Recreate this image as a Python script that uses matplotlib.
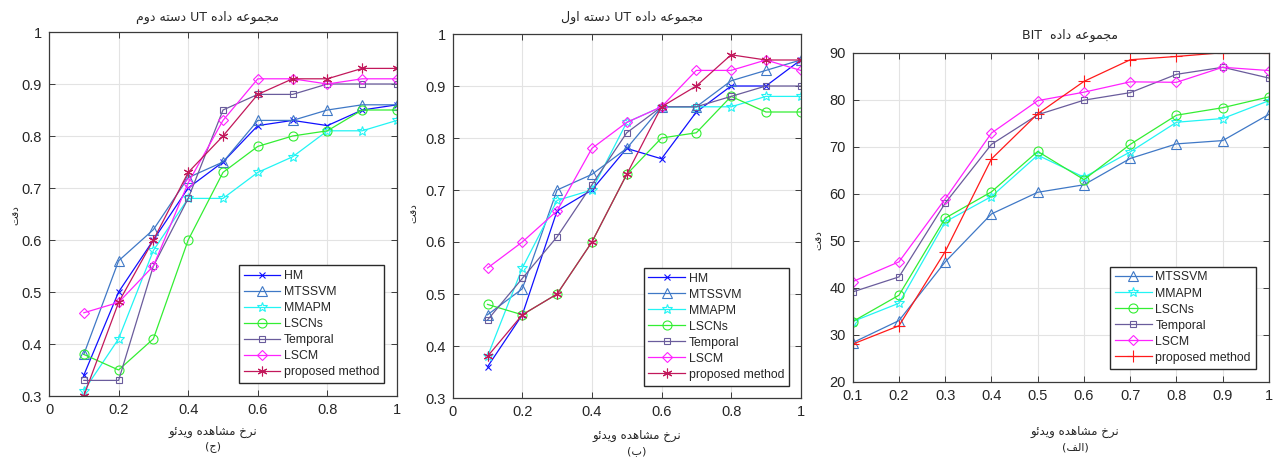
import matplotlib
matplotlib.use("Agg")
import matplotlib.pyplot as plt
import numpy as np

# ---------------- data ----------------
x_ratio = [0.1, 0.2, 0.3, 0.4, 0.5, 0.6, 0.7, 0.8, 0.9, 1.0]

# Panel (ج) : UT set 2
ut2_hm       = [0.34, 0.50, 0.60, 0.70, 0.75, 0.82, 0.83, 0.82, 0.85, 0.86]
ut2_mtssvm   = [0.38, 0.56, 0.62, 0.72, 0.75, 0.83, 0.83, 0.85, 0.86, 0.86]
ut2_mmapm    = [0.31, 0.41, 0.58, 0.68, 0.68, 0.73, 0.76, 0.81, 0.81, 0.83]
ut2_lscns    = [0.38, 0.35, 0.41, 0.60, 0.73, 0.78, 0.80, 0.81, 0.85, 0.85]
ut2_temporal = [0.33, 0.33, 0.55, 0.68, 0.85, 0.88, 0.88, 0.90, 0.90, 0.90]
ut2_lscm     = [0.46, 0.48, 0.55, 0.71, 0.83, 0.91, 0.91, 0.90, 0.91, 0.91]
ut2_proposed = [0.30, 0.48, 0.60, 0.73, 0.80, 0.88, 0.91, 0.91, 0.93, 0.93]

# Panel (ب) : UT set 1
ut1_hm       = [0.36, 0.46, 0.66, 0.70, 0.78, 0.76, 0.85, 0.90, 0.90, 0.95]
ut1_mtssvm   = [0.46, 0.51, 0.70, 0.73, 0.78, 0.86, 0.86, 0.91, 0.93, 0.95]
ut1_mmapm    = [0.38, 0.55, 0.68, 0.70, 0.83, 0.86, 0.86, 0.86, 0.88, 0.88]
ut1_lscns    = [0.48, 0.46, 0.50, 0.60, 0.73, 0.80, 0.81, 0.88, 0.85, 0.85]
ut1_temporal = [0.45, 0.53, 0.61, 0.71, 0.81, 0.86, 0.86, 0.88, 0.90, 0.90]
ut1_lscm     = [0.55, 0.60, 0.66, 0.78, 0.83, 0.86, 0.93, 0.93, 0.95, 0.93]
ut1_proposed = [0.38, 0.46, 0.50, 0.60, 0.73, 0.86, 0.90, 0.96, 0.95, 0.95]

# Panel (الف) : BIT
bit_mtssvm   = [28.3, 33.0, 45.5, 55.7, 60.3, 61.9, 67.5, 70.6, 71.3, 76.9]
bit_mmapm    = [32.8, 36.7, 54.0, 59.4, 68.2, 63.5, 68.9, 75.2, 76.0, 79.8]
bit_lscns    = [32.8, 38.4, 54.8, 60.4, 69.0, 63.0, 70.5, 76.7, 78.3, 80.6]
bit_temporal = [39.1, 42.3, 58.0, 70.5, 76.8, 79.9, 81.5, 85.4, 86.9, 84.6]
bit_lscm     = [41.3, 45.5, 58.9, 72.9, 79.8, 81.6, 83.8, 83.7, 86.9, 86.2]
bit_proposed = [28.0, 31.9, 47.7, 67.4, 77.0, 83.9, 88.5, 89.2, 90.0, 90.0]

series_names = ["HM", "MTSSVM", "MMAPM", "LSCNs", "Temporal", "LSCM", "proposed method"]

ticks_01 = [0, 0.2, 0.4, 0.6, 0.8, 1.0]
ticks_01_labels = ["0", "0.2", "0.4", "0.6", "0.8", "1"]
ticks_acc = [0.3, 0.4, 0.5, 0.6, 0.7, 0.8, 0.9, 1.0]
ticks_acc_labels = ["0.3", "0.4", "0.5", "0.6", "0.7", "0.8", "0.9", "1"]
ticks_bitx = [0.1, 0.2, 0.3, 0.4, 0.5, 0.6, 0.7, 0.8, 0.9, 1.0]
ticks_bitx_labels = ["0.1", "0.2", "0.3", "0.4", "0.5", "0.6", "0.7", "0.8", "0.9", "1"]
ticks_bity = [20, 30, 40, 50, 60, 70, 80, 90]

# ------------- minimal Arabic/Persian shaping (visual order) -------------
FORMS = {
    'ا': ('\uFE8D', '\uFE8E', None, None),
    'ب': ('\uFE8F', '\uFE90', '\uFE91', '\uFE92'),
    'ت': ('\uFE95', '\uFE96', '\uFE97', '\uFE98'),
    'ج': ('\uFE9D', '\uFE9E', '\uFE9F', '\uFEA0'),
    'خ': ('\uFEA5', '\uFEA6', '\uFEA7', '\uFEA8'),
    'د': ('\uFEA9', '\uFEAA', None, None),
    'ر': ('\uFEAD', '\uFEAE', None, None),
    'س': ('\uFEB1', '\uFEB2', '\uFEB3', '\uFEB4'),
    'ش': ('\uFEB5', '\uFEB6', '\uFEB7', '\uFEB8'),
    'ع': ('\uFEC9', '\uFECA', '\uFECB', '\uFECC'),
    'ف': ('\uFED1', '\uFED2', '\uFED3', '\uFED4'),
    'ق': ('\uFED5', '\uFED6', '\uFED7', '\uFED8'),
    'ل': ('\uFEDD', '\uFEDE', '\uFEDF', '\uFEE0'),
    'م': ('\uFEE1', '\uFEE2', '\uFEE3', '\uFEE4'),
    'ن': ('\uFEE5', '\uFEE6', '\uFEE7', '\uFEE8'),
    'ه': ('\uFEE9', '\uFEEA', '\uFEEB', '\uFEEC'),
    'و': ('\uFEED', '\uFEEE', None, None),
    'ی': ('\uFEEF', '\uFEF0', '\uFEF3', '\uFEF4'),
    'ئ': ('\uFE89', '\uFE8A', '\uFE8B', '\uFE8C'),
}


def shape_word(word):
    out = []
    n = len(word)
    for i, ch in enumerate(word):
        if ch not in FORMS:
            out.append(ch)
            continue
        prev = word[i - 1] if i > 0 else None
        nxt = word[i + 1] if i < n - 1 else None
        jp = prev is not None and prev in FORMS and FORMS[prev][2] is not None
        jn = nxt is not None and nxt in FORMS and FORMS[ch][2] is not None
        iso, fin, ini, med = FORMS[ch]
        if jp and jn:
            out.append(med)
        elif jp:
            out.append(fin)
        elif jn:
            out.append(ini)
        else:
            out.append(iso)
    return "".join(reversed(out))


def ar(text):
    toks = text.split(" ")
    vis = []
    for t in toks:
        if any(c in FORMS for c in t):
            vis.append(shape_word(t))
        else:
            vis.append(t)
    return " ".join(reversed(vis))


plt.rcParams['font.family'] = ['Liberation Sans', 'DejaVu Sans']
AR_FONT = ['DejaVu Sans']
TXT = '#262626'

fig = plt.figure(figsize=(12.77, 4.57), dpi=100)

W, H = 1277.0, 457.0


def axes_px(l, t, r, b):
    return fig.add_axes([l / W, 1 - b / H, (r - l) / W, (b - t) / H])


ax1 = axes_px(49, 32, 397, 396)
ax2 = axes_px(452.7, 34, 800.7, 398)
ax3 = axes_px(852.7, 52.7, 1269, 381.7)

C_HM = '#1010ff'
C_MTS = '#3f78c6'
C_MMA = '#22f4f4'
C_LSN = '#33ee33'
C_TMP = '#6a5c9c'
C_LSM = '#ff22ff'
C_PRO = '#c2185b'
C_PRO3 = '#ff1a1a'

ast = (6, 2, 0)


def style(label, color, marker, ms):
    return dict(label=label, color=color, marker=marker, markersize=ms,
                markerfacecolor='none', markeredgecolor=color, linewidth=0.9,
                markeredgewidth=0.8)


def draw_ut(ax, hm, mts, mma, lsn, tmp, lsm, pro):
    ax.plot(x_ratio, hm, **style(series_names[0], C_HM, 'x', 4.5))
    ax.plot(x_ratio, mts, **style(series_names[1], C_MTS, '^', 6.5))
    ax.plot(x_ratio, mma, **style(series_names[2], C_MMA, '*', 7))
    ax.plot(x_ratio, lsn, **style(series_names[3], C_LSN, 'o', 6.5))
    ax.plot(x_ratio, tmp, **style(series_names[4], C_TMP, 's', 5))
    ax.plot(x_ratio, lsm, **style(series_names[5], C_LSM, 'D', 5))
    ax.plot(x_ratio, pro, **style(series_names[6], C_PRO, ast, 7))
    ax.set_xlim(0, 1)
    ax.set_ylim(0.3, 1)
    ax.set_xticks(ticks_01)
    ax.set_xticklabels(ticks_01_labels)
    ax.set_yticks(ticks_acc)
    ax.set_yticklabels(ticks_acc_labels)


draw_ut(ax1, ut2_hm, ut2_mtssvm, ut2_mmapm, ut2_lscns, ut2_temporal, ut2_lscm, ut2_proposed)
draw_ut(ax2, ut1_hm, ut1_mtssvm, ut1_mmapm, ut1_lscns, ut1_temporal, ut1_lscm, ut1_proposed)

ax3.plot(x_ratio, bit_mtssvm, **style(series_names[1], C_MTS, '^', 6.5))
ax3.plot(x_ratio, bit_mmapm, **style(series_names[2], C_MMA, '*', 7))
ax3.plot(x_ratio, bit_lscns, **style(series_names[3], C_LSN, 'o', 6.5))
ax3.plot(x_ratio, bit_temporal, **style(series_names[4], C_TMP, 's', 5))
ax3.plot(x_ratio, bit_lscm, **style(series_names[5], C_LSM, 'D', 5))
ax3.plot(x_ratio, bit_proposed, **style(series_names[6], C_PRO3, '+', 8))
ax3.set_xlim(0.1, 1)
ax3.set_ylim(20, 90)
ax3.set_xticks(ticks_bitx)
ax3.set_xticklabels(ticks_bitx_labels)
ax3.set_yticks(ticks_bity)

legend_anchor = [(0.9635, 0.035), (0.9667, 0.034), (0.968, 0.04)]
for ax, anc in zip([ax1, ax2, ax3], legend_anchor):
    ax.grid(True, color='#e3e3e3', linewidth=0.8)
    ax.set_axisbelow(True)
    for s in ax.spines.values():
        s.set_color('#3a3a3a')
        s.set_linewidth(0.9)
    ax.tick_params(direction='in', length=4, width=0.7, colors='#3a3a3a',
                   labelcolor=TXT, labelsize=10.5, top=True, right=True, pad=5)
    leg = ax.legend(loc='lower right', bbox_to_anchor=anc, borderaxespad=0,
                    fontsize=8.8, frameon=True, fancybox=False, framealpha=1,
                    edgecolor='#2a2a2a', handlelength=3.0, handletextpad=0.3,
                    labelspacing=0.33, borderpad=0.4)
    leg.get_frame().set_linewidth(1.0)
    for t in leg.get_texts():
        t.set_color(TXT)

# Titles
fig.text(208 / W, 1 - 17 / H, ar("مجموعه داده UT دسته دوم"), ha='center', va='center',
         fontsize=9, color=TXT, family=AR_FONT)
fig.text(632 / W, 1 - 17 / H, ar("مجموعه داده UT دسته اول"), ha='center', va='center',
         fontsize=9, color=TXT, family=AR_FONT)
fig.text(1070 / W, 1 - 35 / H, ar("مجموعه داده  BIT"), ha='center', va='center',
         fontsize=9, color=TXT, family=AR_FONT)

# x labels + sub captions
xl = ar("نرخ مشاهده ویدئو")
for cx, cy, cap in [(213, 431, "(" + shape_word("ج") + ")"),
                    (637, 435, "(" + shape_word("ب") + ")"),
                    (1075, 431, "(" + shape_word("الف") + ")")]:
    fig.text(cx / W, 1 - cy / H, xl, ha='center', va='center', fontsize=8.5, color=TXT,
             family=AR_FONT)
    fig.text(cx / W, 1 - (cy + 16) / H, cap, ha='center', va='center', fontsize=8, color=TXT,
             family=AR_FONT)

# y labels
yl = ar("دقت")
for cx, cy in [(15, 215), (413, 213), (818, 240)]:
    fig.text(cx / W, 1 - cy / H, yl, ha='center', va='center', fontsize=7.5,
             rotation=90, color=TXT, family=AR_FONT)

fig.savefig("out.png", dpi=100)
